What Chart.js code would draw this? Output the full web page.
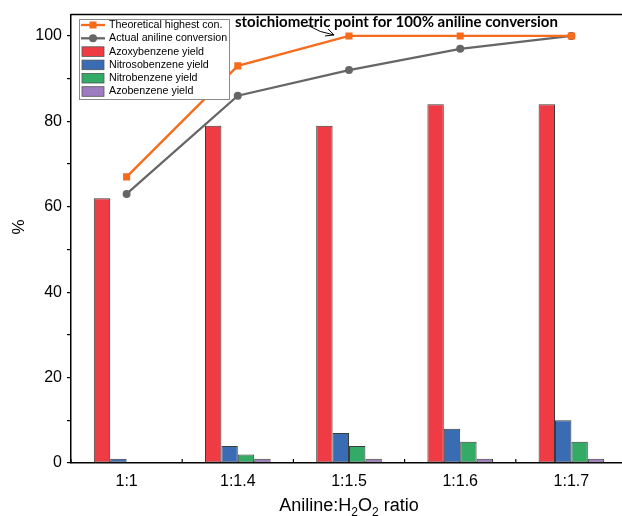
<!DOCTYPE html>
<html>
<head>
<meta charset="utf-8">
<script src="https://cdn.jsdelivr.net/npm/chart.js@4.4.1/dist/chart.umd.min.js"></script>
<style>
html, body { margin: 0; padding: 0; background: #fff; overflow: hidden; }
#wrap { width: 632px; height: 516px; position: relative; }
</style>
</head>
<body>
<div id="wrap"><canvas id="myChart"></canvas></div>
<script>
const ratios = ['1:1', '1:1.4', '1:1.5', '1:1.6', '1:1.7'];
const theoretical = [67, 93, 100, 100, 100];
const actual = [63, 86, 92, 97, 100];
const azoxy = [62, 79, 79, 84, 84];
const nitroso = [1, 4, 7, 8, 10];
const nitro = [0, 2, 4, 5, 5];
const azo = [0, 1, 1, 1, 1];
const yLabels = [0, 20, 40, 60, 80, 100];

const FONT = '"Liberation Sans", Arial, sans-serif';

// legend box drawn inside the plot, top left
const boxLegend = {
  id: 'boxLegend',
  afterDatasetsDraw(chart) {
    const ctx = chart.ctx;
    const x0 = 79, y0 = 19, w = 150, h = 80, row = 13.3;
    ctx.save();
    ctx.fillStyle = '#fff';
    ctx.fillRect(x0, y0, w, h);
    ctx.strokeStyle = '#8a8a8a';
    ctx.lineWidth = 1;
    ctx.strokeRect(x0 + 0.5, y0 + 0.5, w, h);
    ctx.font = '10.7px ' + FONT;
    ctx.textBaseline = 'middle';
    chart.data.datasets.forEach((ds, i) => {
      const y = y0 + 6 + i * row;
      if (ds.type === 'line') {
        ctx.strokeStyle = ds.borderColor;
        ctx.lineWidth = 2.3;
        ctx.beginPath();
        ctx.moveTo(81, y);
        ctx.lineTo(105, y);
        ctx.stroke();
        ctx.fillStyle = ds.borderColor;
        if (ds.pointStyle === 'rect') {
          ctx.fillRect(89.5, y - 3.5, 7, 7);
        } else {
          ctx.beginPath();
          ctx.arc(93, y, 4, 0, Math.PI * 2);
          ctx.fill();
        }
      } else {
        ctx.fillStyle = ds.backgroundColor;
        ctx.fillRect(82, y - 4.8, 22, 9.6);
        ctx.strokeStyle = '#555';
        ctx.lineWidth = 0.8;
        ctx.strokeRect(82, y - 4.8, 22, 9.6);
      }
      ctx.fillStyle = '#000';
      ctx.textAlign = 'left';
      ctx.fillText(ds.label, 109, y);
    });
    ctx.restore();
  }
};

// frame, inward x ticks, axis titles, annotation
const extras = {
  id: 'extras',
  afterDraw(chart) {
    const ctx = chart.ctx;
    const a = chart.chartArea;
    const xs = chart.scales.x;
    ctx.save();
    ctx.strokeStyle = '#000';
    ctx.lineWidth = 1.5;
    ctx.beginPath();
    ctx.moveTo(a.left, a.top);
    ctx.lineTo(chart.width, a.top);
    ctx.stroke();

    // small ticks at category boundaries, pointing up
    const step = xs.getPixelForValue(1) - xs.getPixelForValue(0);
    ctx.lineWidth = 1.2;
    for (let i = 0; i <= ratios.length; i++) {
      const px = xs.getPixelForValue(0) - step / 2 + i * step;
      ctx.beginPath();
      ctx.moveTo(px, a.bottom);
      ctx.lineTo(px, a.bottom - 4);
      ctx.stroke();
    }

    // y title
    ctx.fillStyle = '#000';
    ctx.font = '17px ' + FONT;
    ctx.textAlign = 'center';
    ctx.textBaseline = 'middle';
    ctx.save();
    ctx.translate(19, 227);
    ctx.rotate(-Math.PI / 2);
    ctx.fillText('%', 0, 0);
    ctx.restore();

    // x title with subscripts
    const parts = [['Aniline:H', 0], ['2', 1], ['O', 0], ['2', 1], [' ratio', 0]];
    const big = '18px ' + FONT, small = '12px ' + FONT;
    let total = 0;
    parts.forEach(p => { ctx.font = p[1] ? small : big; total += ctx.measureText(p[0]).width; });
    let cx = (a.left + a.right) / 2 - total / 2;
    const ty = 505;
    ctx.textAlign = 'left';
    ctx.textBaseline = 'alphabetic';
    parts.forEach(p => {
      ctx.font = p[1] ? small : big;
      ctx.fillText(p[0], cx, p[1] ? ty + 11 : ty + 6);
      cx += ctx.measureText(p[0]).width;
    });

    // annotation pointing at the stoichiometric point
    const pt = chart.getDatasetMeta(0).data[2];
    const tipX = pt.x - 15, tipY = pt.y - 1;
    ctx.strokeStyle = '#000';
    ctx.lineWidth = 1;
    ctx.beginPath();
    ctx.moveTo(tipX - 27, tipY - 10);
    ctx.quadraticCurveTo(tipX - 14, tipY - 2, tipX, tipY);
    ctx.moveTo(tipX - 6, tipY - 6);
    ctx.lineTo(tipX, tipY);
    ctx.lineTo(tipX - 9, tipY + 1);
    ctx.stroke();

    const label = 'stoichiometric point for 100% aniline conversion';
    ctx.font = 'bold 14px Lato, sans-serif';
    const fs = 14 * 323 / ctx.measureText(label).width;
    ctx.font = 'bold ' + fs.toFixed(2) + 'px Lato, sans-serif';
    ctx.textBaseline = 'middle';
    ctx.fillText(label, 235, 22);
    ctx.restore();
  }
};

const barBase = {
  type: 'bar',
  borderColor: '#3c3c3c',
  borderWidth: 1,
  borderSkipped: false,
  categoryPercentage: 0.59,
  barPercentage: 1,
  order: 2
};

const chart = new Chart(document.getElementById('myChart'), {
  data: {
    labels: ratios,
    datasets: [
      {
        type: 'line', label: 'Theoretical highest con.', data: theoretical,
        borderColor: '#f76b1c', backgroundColor: '#f76b1c', borderWidth: 2.3,
        pointStyle: 'rect', pointRadius: 5, pointBorderWidth: 0, order: 0
      },
      {
        type: 'line', label: 'Actual aniline conversion', data: actual,
        borderColor: '#666666', backgroundColor: '#666666', borderWidth: 2.3,
        pointStyle: 'circle', pointRadius: 4, pointBorderWidth: 0, order: 1
      },
      Object.assign({}, barBase, { label: 'Azoxybenzene yield', data: azoxy, backgroundColor: '#ee3b44' }),
      Object.assign({}, barBase, { label: 'Nitrosobenzene yield', data: nitroso, backgroundColor: '#3a6cb4' }),
      Object.assign({}, barBase, { label: 'Nitrobenzene yield', data: nitro, backgroundColor: '#33aa66' }),
      Object.assign({}, barBase, { label: 'Azobenzene yield', data: azo, backgroundColor: '#9e7cc1' })
    ]
  },
  options: {
    responsive: true,
    maintainAspectRatio: false,
    animation: false,
    layout: { padding: { top: 13, right: 1, left: 0, bottom: 0 } },
    plugins: {
      legend: { display: false },
      tooltip: { enabled: false }
    },
    scales: {
      x: {
        offset: true,
        afterFit(s) { s.height = 53; },
        grid: { display: false, drawTicks: false },
        border: { display: true, color: '#000', width: 1.5 },
        ticks: { color: '#000', font: { size: 16, family: FONT }, padding: 9 }
      },
      y: {
        min: 0,
        max: 105,
        afterFit(s) { s.width = 71; },
        afterBuildTicks(s) { s.ticks = s.ticks.filter(t => t.value <= 100); },
        grid: { drawOnChartArea: false, drawTicks: true, tickLength: 4, color: '#000', lineWidth: 1.2 },
        border: { display: true, color: '#000', width: 1.5 },
        ticks: {
          stepSize: 10,
          padding: 5,
          color: '#000',
          font: { size: 16, family: FONT },
          callback: v => yLabels.includes(v) ? String(v) : ''
        }
      }
    }
  },
  plugins: [boxLegend, extras]
});
</script>
</body>
</html>
